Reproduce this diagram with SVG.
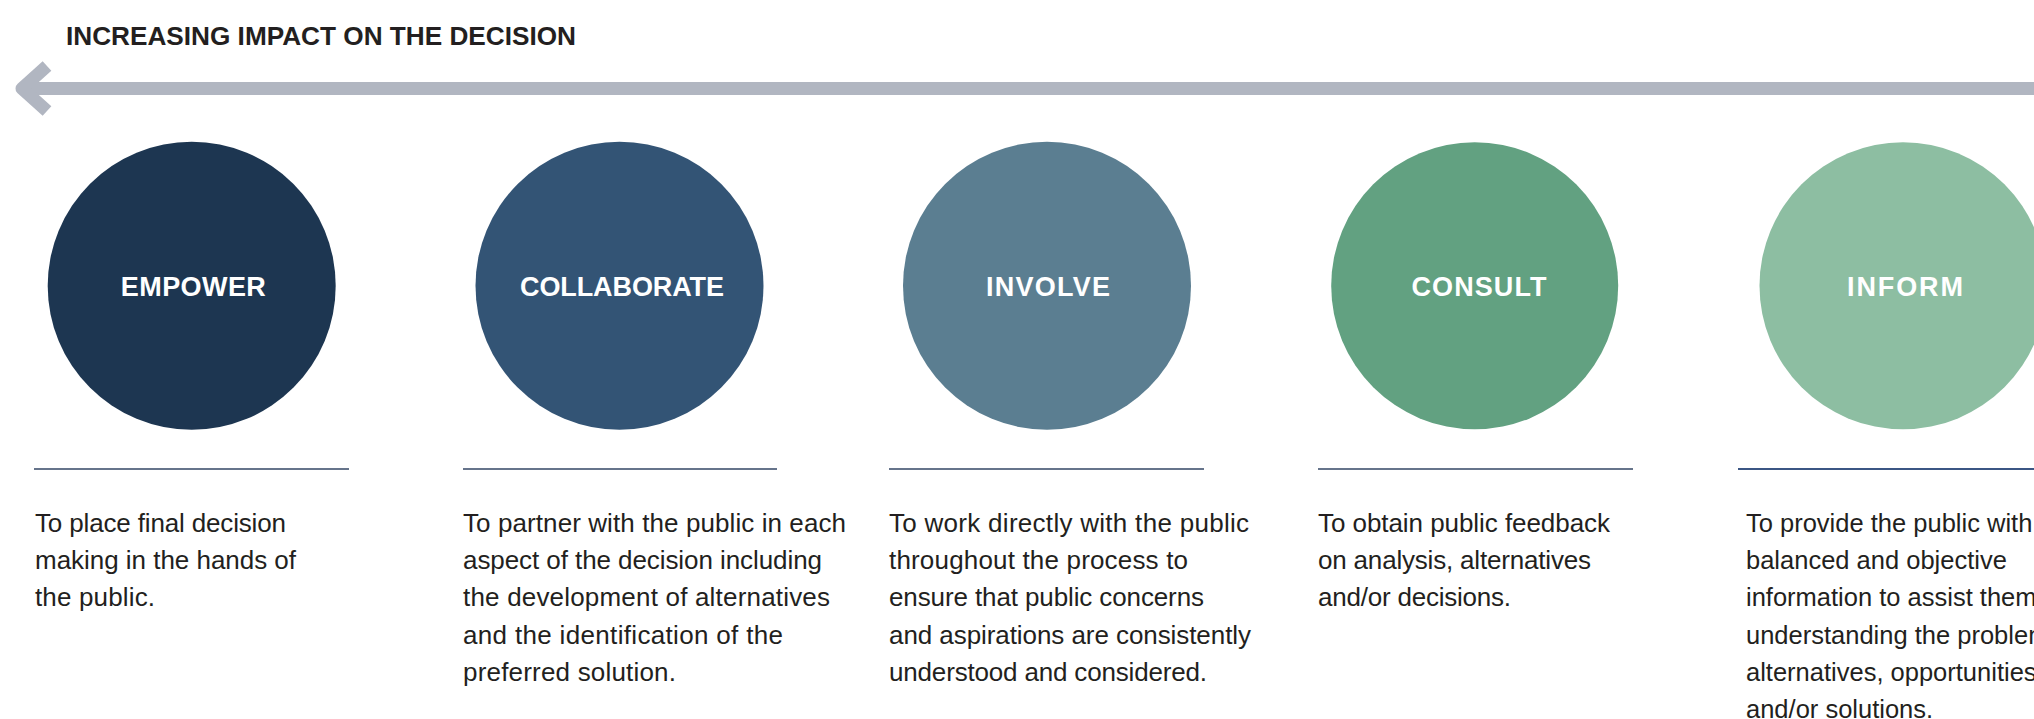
<svg xmlns="http://www.w3.org/2000/svg" width="2034" height="719" viewBox="0 0 2034 719">
<style>
.title{font-family:"Liberation Sans",Arial,sans-serif;font-weight:bold;font-size:26px;fill:#231f20}
.lbl{font-family:"Liberation Sans",Arial,sans-serif;font-weight:bold;font-size:27px;fill:#ffffff;text-anchor:middle}
.desc{font-family:"Liberation Sans",Arial,sans-serif;font-size:26px;fill:#231f20}
.desc5{font-family:"Liberation Sans",Arial,sans-serif;font-size:25.5px;fill:#231f20}
.rule{stroke:#66748b;stroke-width:2}
</style>
<rect width="2034" height="719" fill="#ffffff"/>
<text class="title" x="66" y="45" textLength="510" lengthAdjust="spacingAndGlyphs">INCREASING IMPACT ON THE DECISION</text>
<g id="connectors">
<rect x="24" y="82" width="2010" height="13" fill="#b1b6c1"/>
<polyline points="47,66 22,88.5 47,111" fill="none" stroke="#b1b6c1" stroke-width="13" stroke-linejoin="round"/>
</g>
<g id="empower">
<circle cx="191.7" cy="285.8" r="144" fill="#1d3651"/>
<text class="lbl" x="193.3" y="296" textLength="145" lengthAdjust="spacing">EMPOWER</text>
<line class="rule" x1="34" y1="469" x2="349" y2="469"/>
<text class="desc" y="532"><tspan x="35" textLength="251">To place final decision</tspan><tspan x="35" dy="37.2" textLength="261">making in the hands of</tspan><tspan x="35" dy="37.2" textLength="120">the public.</tspan></text>
</g>
<g id="collaborate">
<circle cx="619.5" cy="285.8" r="144" fill="#335475"/>
<text class="lbl" x="622" y="296" textLength="204" lengthAdjust="spacing">COLLABORATE</text>
<line class="rule" x1="463" y1="469" x2="777" y2="469"/>
<text class="desc" y="532"><tspan x="463" textLength="383">To partner with the public in each</tspan><tspan x="463" dy="37.2" textLength="359">aspect of the decision including</tspan><tspan x="463" dy="37.2" textLength="367">the development of alternatives</tspan><tspan x="463" dy="37.2" textLength="320">and the identification of the</tspan><tspan x="463" dy="37.2" textLength="213">preferred solution.</tspan></text>
</g>
<g id="involve">
<circle cx="1047" cy="285.8" r="144" fill="#5b7e91"/>
<text class="lbl" x="1048" y="296" textLength="124" lengthAdjust="spacing">INVOLVE</text>
<line class="rule" x1="889" y1="469" x2="1204" y2="469"/>
<text class="desc" y="532"><tspan x="889" textLength="360">To work directly with the public</tspan><tspan x="889" dy="37.2" textLength="299">throughout the process to</tspan><tspan x="889" dy="37.2" textLength="315">ensure that public concerns</tspan><tspan x="889" dy="37.2" textLength="362">and aspirations are consistently</tspan><tspan x="889" dy="37.2" textLength="318">understood and considered.</tspan></text>
</g>
<g id="consult">
<circle cx="1474.7" cy="285.8" r="143.5" fill="#62a181"/>
<text class="lbl" x="1479" y="296" textLength="135" lengthAdjust="spacing">CONSULT</text>
<line class="rule" x1="1318" y1="469" x2="1633" y2="469"/>
<text class="desc" y="532"><tspan x="1318" textLength="292">To obtain public feedback</tspan><tspan x="1318" dy="37.2" textLength="273">on analysis, alternatives</tspan><tspan x="1318" dy="37.2" textLength="193">and/or decisions.</tspan></text>
</g>
<g id="inform">
<circle cx="1903" cy="285.8" r="143.5" fill="#8dbea2"/>
<text class="lbl" x="1905" y="296" textLength="116" lengthAdjust="spacing">INFORM</text>
<line x1="1738" y1="469" x2="2034" y2="469" stroke="#3b5684" stroke-width="2"/>
<text class="desc5" y="532"><tspan x="1746">To provide the public with</tspan><tspan x="1746" dy="37.2">balanced and objective</tspan><tspan x="1746" dy="37.2">information to assist them in</tspan><tspan x="1746" dy="37.2">understanding the problem,</tspan><tspan x="1746" dy="37.2">alternatives, opportunities</tspan><tspan x="1746" dy="37.2">and/or solutions.</tspan></text>
</g>
</svg>
